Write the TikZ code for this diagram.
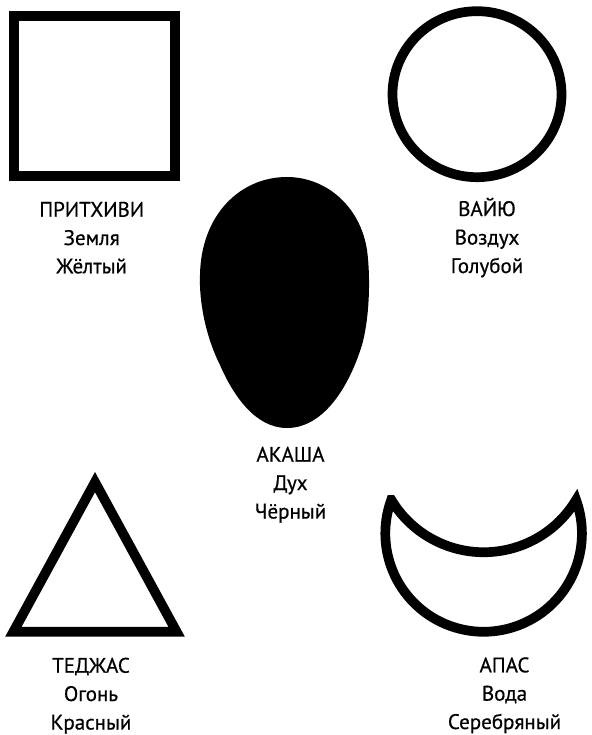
\documentclass[tikz,border=0pt]{standalone}
\usepackage{fontspec}
\setmainfont{PT Sans}
\newfontfamily\lblface{PT Sans}[FakeBold=0.6]
\newcommand{\lblfont}{\lblface\fontsize{21}{25}\selectfont}
\begin{document}
\begin{tikzpicture}[x=1pt,y=-1pt,
  shapeline/.style={draw=black, line width=9.7pt, line join=miter},
  lbl/.style={font=\lblfont, anchor=base, inner sep=0pt, text=black}]
\useasboundingbox (0,0) rectangle (591,735);
% Prithvi - square
\draw[shapeline] (14.3,16) rectangle (175.3,176);
% Vayu - circle
\draw[shapeline] (477,94.2) ellipse[x radius=84.5, y radius=83];
% Akasha - egg
\fill[black] (287,177) .. controls (325,177) and (360,205) .. (367,250)
  .. controls (371,280) and (369,320) .. (362,345)
  .. controls (348,390) and (322,428) .. (287,428)
  .. controls (255,428) and (233,395) .. (220,365)
  .. controls (205,335) and (199,300) .. (200,275)
  .. controls (201,215) and (240,177) .. cycle;
% Tejas - triangle
\draw[shapeline] (95,482.1) -- (176.6,631.7) -- (13.4,631.7) -- cycle;
% Apas - crescent
\draw[shapeline] (391.2,500) arc[start angle=199.9, end angle=-19.9, radius=98.3]
  arc[start angle=31, end angle=149, radius=107.7] -- cycle;
% Labels
\node[lbl] (p1) at (91.7,216.7) {ПРИТХИВИ};
\node[lbl] (p2) at (91.7,245) {Земля};
\node[lbl] (p3) at (91.7,273.3) {Жёлтый};
\node[lbl] (v1) at (487,216) {ВАЙЮ};
\node[lbl] (v2) at (487,244.5) {Воздух};
\node[lbl] (v3) at (487,273) {Голубой};
\node[lbl] (a1) at (290.5,461.7) {АКАША};
\node[lbl] (a2) at (290.5,490) {Дух};
\node[lbl] (a3) at (290.5,518.5) {Чёрный};
\node[lbl] (t1) at (91,672.7) {ТЕДЖАС};
\node[lbl] (t2) at (91,701) {Огонь};
\node[lbl] (t3) at (91,729.5) {Красный};
\node[lbl] (w1) at (504.5,672.3) {АПАС};
\node[lbl] (w2) at (504.5,700.6) {Вода};
\node[lbl] (w3) at (504.5,729) {Серебряный};
\end{tikzpicture}
\end{document}
